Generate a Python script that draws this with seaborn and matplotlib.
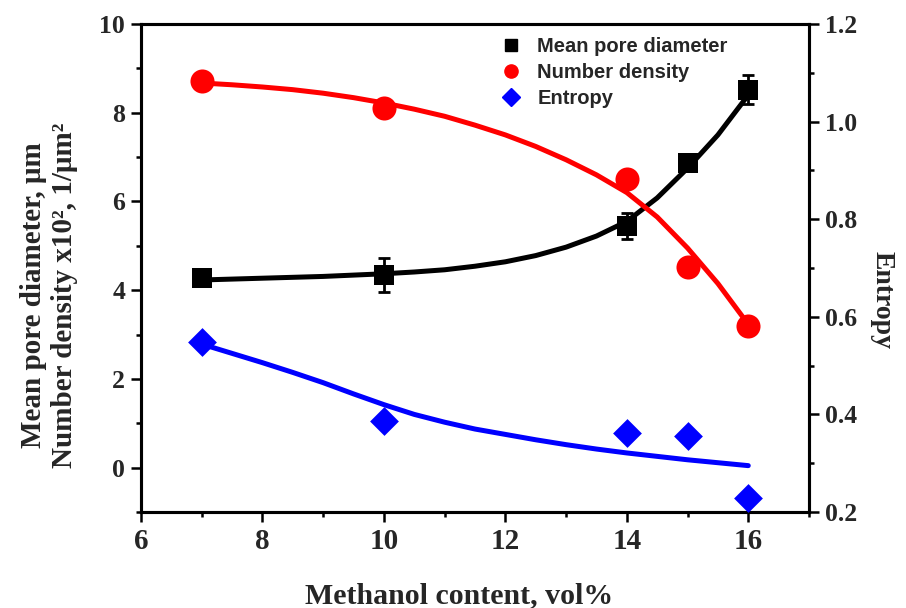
import matplotlib
matplotlib.use("Agg")
import matplotlib.pyplot as plt
import seaborn as sns
import pandas as pd
from matplotlib.lines import Line2D
from matplotlib.ticker import MultipleLocator, FormatStrFormatter

# ---- data ----
methanol = [7, 10, 14, 15, 16]
pore_diam = [4.27, 4.34, 5.45, 6.87, 8.52]
pore_err = [0.15, 0.38, 0.30, 0.15, 0.33]
num_density = [8.72, 8.10, 6.50, 4.52, 3.20]
entropy = [0.549, 0.386, 0.361, 0.355, 0.228]

fit_x = [7, 7.5, 8, 8.5, 9, 9.5, 10, 10.5, 11, 11.5, 12, 12.5, 13, 13.5, 14, 14.5, 15, 15.5, 16]
fit_pore = [4.23, 4.25, 4.27, 4.29, 4.31, 4.34, 4.37, 4.41, 4.46, 4.54, 4.64, 4.78, 4.97,
            5.22, 5.55, 6.08, 6.75, 7.50, 8.40]
fit_density = [8.67, 8.63, 8.58, 8.52, 8.44, 8.34, 8.22, 8.08, 7.92, 7.72, 7.50, 7.24, 6.94,
               6.60, 6.20, 5.65, 4.95, 4.15, 3.23]
fit_entropy = [0.544, 0.525, 0.506, 0.486, 0.465, 0.442, 0.420, 0.400, 0.384, 0.370, 0.359,
               0.348, 0.338, 0.329, 0.321, 0.314, 0.307, 0.301, 0.295]

legend_labels = ["Mean pore diameter", "Number density", "Entropy"]

pts = pd.DataFrame({"x": methanol, "pore": pore_diam, "dens": num_density, "ent": entropy})
fit = pd.DataFrame({"x": fit_x, "pore": fit_pore, "dens": fit_density, "ent": fit_entropy})

sns.set_style("ticks")
plt.rcParams["font.family"] = ["Liberation Serif", "DejaVu Serif"]
plt.rcParams["font.weight"] = "bold"

fig = plt.figure(figsize=(9.06, 6.08), dpi=100)
ax = fig.add_axes([141 / 906, 1 - 512 / 608, (809 - 141) / 906, (512 - 24) / 608])
ax2 = ax.twinx()

# left axis: pore diameter & number density
sns.lineplot(data=fit, x="x", y="pore", ax=ax, color="black", linewidth=3.6, zorder=2)
sns.lineplot(data=fit, x="x", y="dens", ax=ax, color="#ff0000", linewidth=3.6, zorder=2)
ax.errorbar(methanol, pore_diam, yerr=pore_err, fmt="none", ecolor="black",
            elinewidth=2, capsize=4.5, capthick=2, zorder=3)
sns.scatterplot(data=pts, x="x", y="pore", ax=ax, marker="s", s=225, color="black",
                edgecolor="black", linewidth=0, zorder=4)
sns.scatterplot(data=pts, x="x", y="dens", ax=ax, marker="o", s=300, color="#ff0000",
                edgecolor="#ff0000", linewidth=0, zorder=4)

# right axis: entropy
sns.lineplot(data=fit, x="x", y="ent", ax=ax2, color="#0000ff", linewidth=3.6, zorder=2)
sns.scatterplot(data=pts, x="x", y="ent", ax=ax2, marker="D", s=215, color="#0000ff",
                edgecolor="#0000ff", linewidth=0, zorder=4)

ax.set_xlim(6, 17)
ax.set_ylim(-1, 10)
ax2.set_ylim(0.2, 1.2)

ax.xaxis.set_major_locator(MultipleLocator(2))
ax.xaxis.set_minor_locator(MultipleLocator(1))
ax.yaxis.set_major_locator(MultipleLocator(2))
ax.yaxis.set_minor_locator(MultipleLocator(1))
ax2.yaxis.set_major_locator(MultipleLocator(0.2))
ax2.yaxis.set_minor_locator(MultipleLocator(0.1))
ax2.yaxis.set_major_formatter(FormatStrFormatter("%.1f"))

for a in (ax, ax2):
    for sp in a.spines.values():
        sp.set_linewidth(2.2)
        sp.set_visible(True)
        sp.set_color("black")

ax.tick_params(axis="both", which="major", direction="out", length=7, width=1.8,
               pad=4.5, color="black")
ax.tick_params(axis="both", which="minor", direction="out", length=3.5, width=1.8, color="black")
ax.tick_params(axis="x", labelsize=21)
ax.tick_params(axis="y", labelsize=18.5, right=False)
ax2.tick_params(axis="y", which="major", direction="out", length=7, width=1.8,
                labelsize=18.5, pad=4.5, color="black")
ax2.tick_params(axis="y", which="minor", direction="out", length=3.5, width=1.8, color="black")
for lbl in ax.get_xticklabels() + ax.get_yticklabels() + ax2.get_yticklabels():
    lbl.set_fontweight("bold")

ax.set_xlabel("Methanol content, vol%", fontsize=21.5, fontweight="bold")
ax.xaxis.set_label_coords(0.476, -0.143)
ax.set_ylabel("Mean pore diameter, μm\nNumber density x10², 1/μm²", fontsize=21,
              fontweight="bold", linespacing=1.2)
ax.yaxis.set_label_coords(-0.094, 0.445)
ax2.set_ylabel("Entropy", fontsize=20, fontweight="bold", rotation=270,
               va="center", ha="center")
ax2.yaxis.set_label_coords(1.109, 0.434)

handles = [
    Line2D([], [], linestyle="none", marker="s", markersize=9, color="black"),
    Line2D([], [], linestyle="none", marker="o", markersize=9.5, color="#ff0000"),
    Line2D([], [], linestyle="none", marker="D", markersize=9, color="#0000ff"),
]
leg = ax2.legend(handles, legend_labels, loc="upper left",
                 bbox_to_anchor=(494 / 906, 1 - 26.5 / 608), bbox_transform=fig.transFigure,
                 frameon=False, borderpad=0, handlelength=0.7, handletextpad=0.95,
                 labelspacing=0.37,
                 prop={"family": ["Liberation Sans", "DejaVu Sans"], "weight": "bold", "size": 14.5})

fig.savefig("out.png", dpi=100)
